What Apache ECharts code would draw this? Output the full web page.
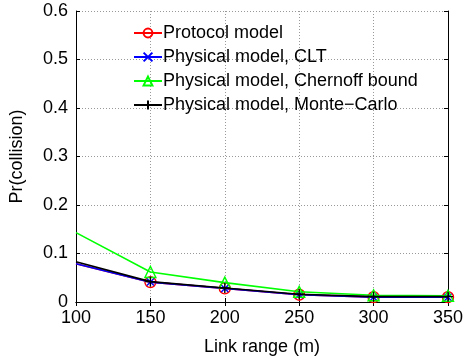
<!DOCTYPE html>
<html><head><meta charset="utf-8">
<script src="https://cdn.jsdelivr.net/npm/echarts@6/dist/echarts.min.js"></script>
<style>html,body{margin:0;padding:0;background:#fff}#c{width:466px;height:363px}</style>
</head><body><div id="c"></div>
<script>
const linkRange = [100, 150, 200, 250, 300, 350];
const protocolModel = [0.079, 0.041, 0.028, 0.015, 0.010, 0.010];
const physicalCLT = [0.079, 0.041, 0.028, 0.015, 0.010, 0.010];
const physicalChernoff = [0.143, 0.062, 0.040, 0.021, 0.014, 0.013];
const physicalMC = [0.083, 0.042, 0.029, 0.016, 0.011, 0.011];
const yTicks = [0, 0.1, 0.2, 0.3, 0.4, 0.5, 0.6];

const chart = echarts.init(document.getElementById('c'));
const FONT = 'Liberation Sans, Arial, sans-serif';
const X_PATH = 'path://M0,0L10,10M10,0L0,10';
const PLUS_PATH = 'path://M5,0L5,10M0,5L10,5';

function mk(name, vals, color, symbol, size, z) {
  return {
    name, type: 'line', z,
    data: linkRange.map((x, i) => ({
      value: [x, vals[i]],
      symbol: i === 0 ? 'none' : symbol
    })),
    symbol, symbolSize: size,
    showSymbol: true,
    lineStyle: { color, width: 1.6 },
    itemStyle: { color: symbol === 'circle' || symbol === 'triangle' ? 'transparent' : color, borderColor: color, borderWidth: 1.4 },
    emphasis: { disabled: true },
    animation: false
  };
}
const grid = { lineStyle: { color: '#999', type: [1, 2], width: 1 } };
const tick = { show: true, inside: true, length: 4, lineStyle: { color: '#000' } };

chart.setOption({
  animation: false,
  backgroundColor: '#fff',
  grid: { left: 76, right: 13, top: 11, bottom: 61, show: false },
  legend: {
    orient: 'vertical', left: 128, top: 19, itemGap: 6, itemWidth: 28, itemHeight: 11,
    textStyle: { fontFamily: FONT, fontSize: 18, color: '#000', padding: [0, 0, 0, -4] },
    data: ['Protocol model', 'Physical model, CLT', 'Physical model, Chernoff bound', 'Physical model, Monte\u2212Carlo']
  },
  xAxis: [{
    type: 'value', min: 100, max: 350, interval: 50,
    name: 'Link range (m)', nameLocation: 'middle', nameGap: 36,
    nameTextStyle: { fontFamily: FONT, fontSize: 18, color: '#000' },
    axisLine: { lineStyle: { color: '#000' } },
    axisTick: tick,
    axisLabel: { fontFamily: FONT, fontSize: 18, color: '#000', margin: 7 },
    splitLine: Object.assign({ show: true }, grid)
  }, {
    type: 'value', position: 'top', min: 100, max: 350, interval: 50,
    axisLine: { show: true, lineStyle: { color: '#000' } }, axisTick: tick,
    axisLabel: { show: false }, splitLine: { show: false }
  }],
  yAxis: [{
    type: 'value', min: 0, max: 0.6, interval: 0.1,
    name: 'Pr(collision)', nameLocation: 'middle', nameGap: 50,
    nameTextStyle: { fontFamily: FONT, fontSize: 18, color: '#000' },
    axisLine: { show: true, lineStyle: { color: '#000' } },
    axisTick: tick,
    axisLabel: { fontFamily: FONT, fontSize: 18, color: '#000', margin: 8,
      formatter: v => { const t = yTicks.find(k => Math.abs(k - v) < 1e-9); return t === undefined ? '' : String(t); } },
    splitLine: Object.assign({ show: true }, grid)
  }, {
    type: 'value', position: 'right', min: 0, max: 0.6, interval: 0.1,
    axisLine: { show: true, lineStyle: { color: '#000' } }, axisTick: tick,
    axisLabel: { show: false }, splitLine: { show: false }
  }],
  series: [
    mk('Protocol model', protocolModel, '#ff0000', 'circle', 11, 2),
    mk('Physical model, CLT', physicalCLT, '#0000ff', X_PATH, 7, 3),
    mk('Physical model, Chernoff bound', physicalChernoff, '#00ff00', 'triangle', 11, 4),
    mk('Physical model, Monte\u2212Carlo', physicalMC, '#000000', PLUS_PATH, 10, 5)
  ]
});
</script></body></html>
